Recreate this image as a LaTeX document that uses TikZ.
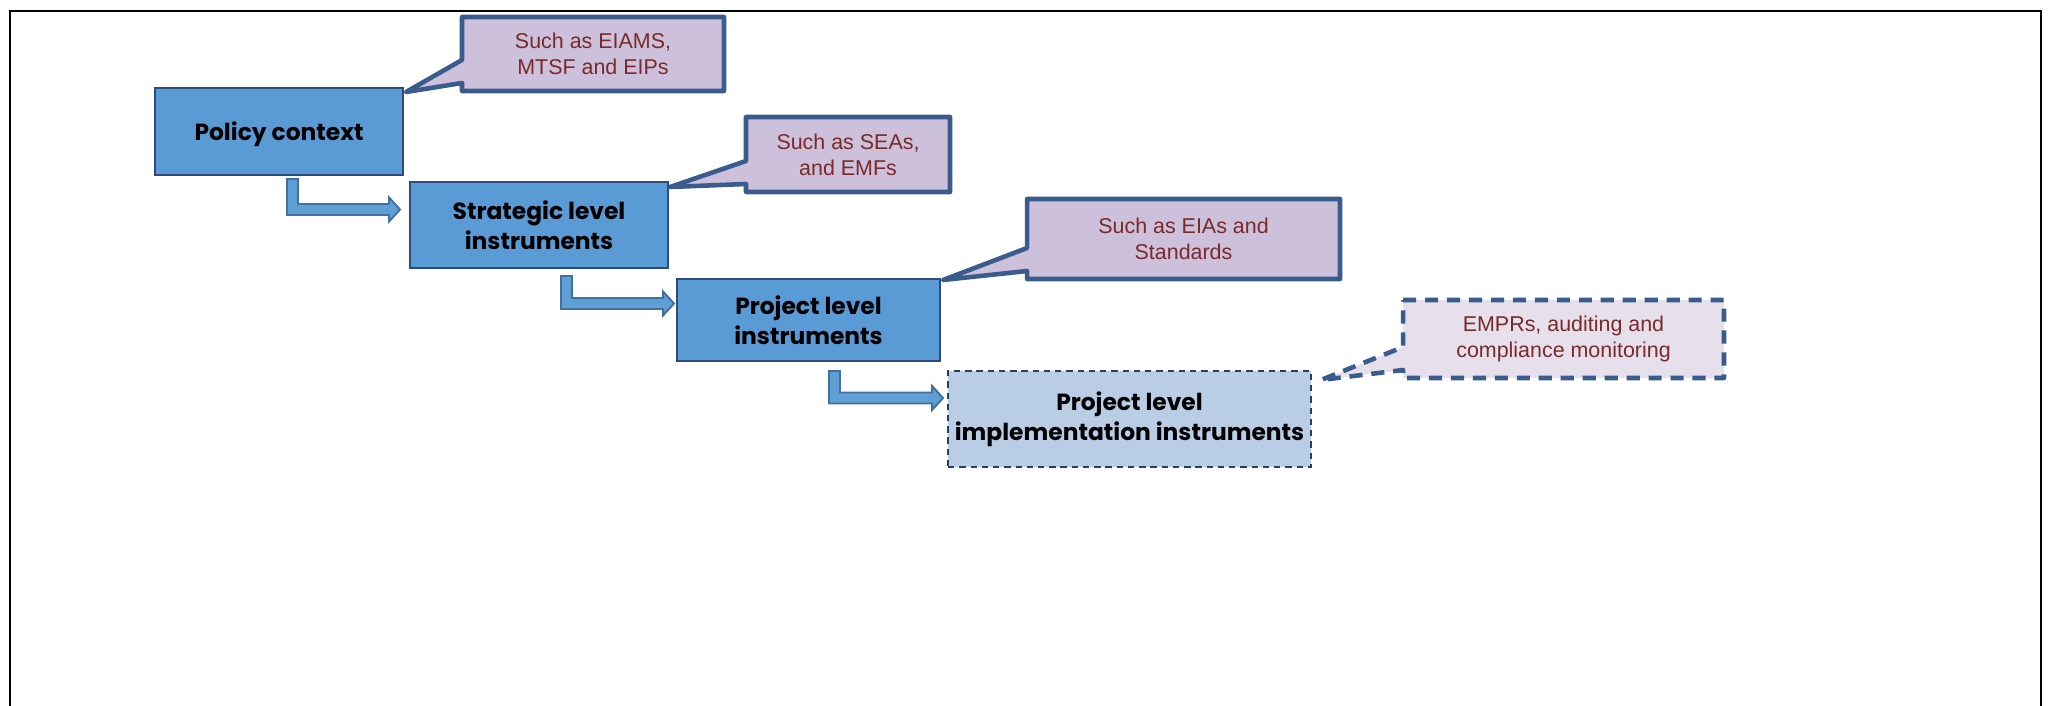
\documentclass[tikz,border=0pt]{standalone}
\usepackage{fontspec}
\setmainfont{Liberation Sans}
\newfontfamily\boxfont{Poppins}
\usetikzlibrary{calc,backgrounds}

\definecolor{boxblue}{RGB}{91,155,213}
\definecolor{boxline}{RGB}{46,76,122}
\definecolor{arrowfill}{RGB}{96,158,214}
\definecolor{arrowline}{RGB}{65,113,160}
\definecolor{notefill}{RGB}{204,192,218}
\definecolor{notefilllight}{RGB}{230,224,236}
\definecolor{noteline}{RGB}{58,92,140}
\definecolor{notetext}{RGB}{122,42,42}
\definecolor{implfill}{RGB}{185,205,229}
\definecolor{implline}{RGB}{36,64,98}

\tikzset{
  levelbox/.style={draw=boxline, fill=boxblue, line width=1.4pt, align=center,
    inner sep=0pt, outer sep=0pt, font=\boxfont\bfseries\fontsize{13.3}{17}\selectfont},
  implbox/.style={levelbox, fill=implfill, draw=implline, line width=1.3pt,
    dash pattern=on 3.6pt off 2.8pt},
  note/.style={align=center, inner sep=0pt, outer sep=0pt, text=notetext,
    font=\fontsize{12.2}{14.8}\selectfont},
  noteshape/.style={draw=noteline, fill=notefill, line width=2.6pt, line join=round},
  dashnote/.style={noteshape, fill=notefilllight, dash pattern=on 7.5pt off 5pt},
  bentarrow/.style={draw=arrowline, fill=arrowfill, line width=1.1pt},
}

% #1 note node, #2 pointer tip, #3 style
\newcommand{\notepath}[3]{%
  \draw[#3] (#1.north west) -- (#1.north east) -- (#1.south east) -- (#1.south west)
    -- ($(#1.south west)+(0,-8)$) -- (#2) -- ($(#1.south west)+(0,-31)$) -- cycle;}
% #1 top of stem, #2 tip
\newcommand{\bendarrow}[2]{%
  \draw[bentarrow] (#1) -- ++(11,0) |- ($(#2)+(-11,-5.5)$) -- ++(0,-6.5) -- (#2)
    -- ++(-11,12) -- ++(0,-6.5) -| (#1) -- cycle;}

\begin{document}
\begin{tikzpicture}[x=0.02cm, y=-0.02cm]
  \useasboundingbox (0,0) rectangle (2054,706);
  \draw[line width=1pt] (10,706) -- (10,11) -- (2041,11) -- (2041,706);

  % levels
  \node[levelbox, text depth=0pt, minimum width=4.96cm, minimum height=1.74cm] (policy) at (279,131.5) {Policy context};
  \node[levelbox, minimum width=5.16cm, minimum height=1.72cm] (strategic) at (539,225) {Strategic level\\instruments};
  \node[levelbox, minimum width=5.26cm, minimum height=1.64cm] (project) at (808.5,320) {Project level\\instruments};
  \node[implbox, minimum width=7.26cm, minimum height=1.92cm] (impl) at (1129.5,419) {Project level\\implementation instruments};

  % notes
  \node[note, minimum width=5.24cm, minimum height=1.48cm] (eiams) at (593,54) {Such as EIAMS,\\MTSF and EIPs};
  \node[note, minimum width=4.08cm, minimum height=1.50cm] (seas) at (848,154.5) {Such as SEAs,\\and EMFs};
  \node[note, minimum width=6.26cm, minimum height=1.60cm] (eias) at (1183.5,239) {Such as EIAs and\\Standards};
  \node[note, minimum width=6.42cm, minimum height=1.56cm] (emprs) at (1563.5,339) {EMPRs, auditing and\\compliance monitoring};

  \begin{scope}[on background layer]
    \notepath{eiams}{$(policy.north east)+(3,4)$}{noteshape}
    \notepath{seas}{$(strategic.north east)+(2,5)$}{noteshape}
    \notepath{eias}{$(project.north east)+(3,1)$}{noteshape}
    \notepath{emprs}{$(impl.north east)+(10,9)$}{dashnote}
  \end{scope}

  % arrows between levels
  \coordinate (s1) at ($(policy.south)+(8,4)$);
  \coordinate (t1) at ($(strategic.west)+(-10,-15.5)$);
  \coordinate (s2) at ($(strategic.south)+(22,8)$);
  \coordinate (t2) at ($(project.west)+(-3,-16.5)$);
  \coordinate (s3) at ($(project.south)+(20.5,10)$);
  \coordinate (t3) at ($(impl.west)+(-5,-21)$);
  \bendarrow{s1}{t1}
  \bendarrow{s2}{t2}
  \bendarrow{s3}{t3}
\end{tikzpicture}
\end{document}
